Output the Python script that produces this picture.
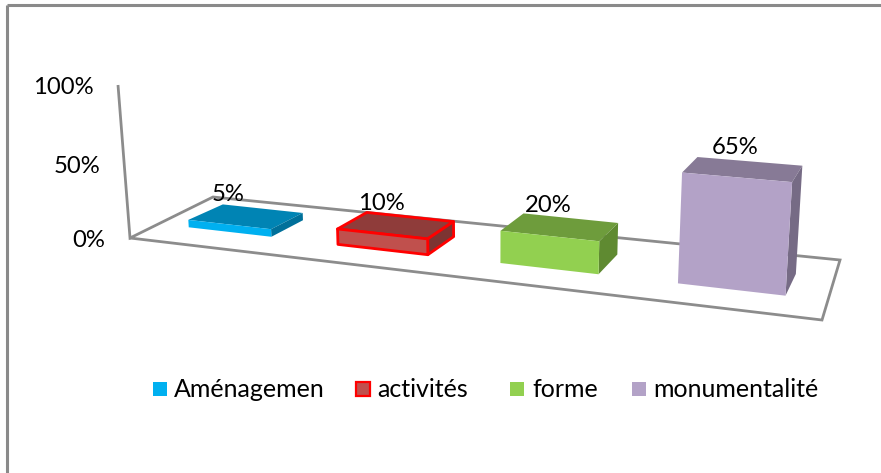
import numpy as np, pandas as pd, matplotlib
matplotlib.use("Agg")
import matplotlib.pyplot as plt, seaborn as sns
from matplotlib.patches import Rectangle, Polygon
from matplotlib.transforms import Transform, Affine2D

categories = ["Aménagemen", "activités", "forme", "monumentalité"]
values = [5, 10, 20, 65]
value_labels = ["5%", "10%", "20%", "65%"]
tick_labels = ["0%", "50%", "100%"]

FRONT = ["#00B0F0", "#C0504D", "#92D050", "#B3A2C7"]
TOP = ["#0084B4", "#8F3C3A", "#6E9C3C", "#877A96"]
SIDE = ["#00709A", "#7D3432", "#5F8A31", "#766B85"]
EDGE = [None, "#FF0000", None, None]
GREY = "#8C8C8C"
FONT = "Lato"
FS_NUM = 17.2
FS_LEG = 18.0

# Camera matrix of the pseudo-3D view: (bar position, depth, value %) -> pixels
CAM = np.array([[137.0366, 44.9189, -0.140703, 229.5814],
                [7.23134, -6.39480, -1.563680, 231.9810],
                [-0.0411878, 0.0452107, -0.000288666, 1.0]])


def project(x, d, v):
    q = CAM @ np.array([x, d, v, 1.0])
    return q[0] / q[2], q[1] / q[2]


class FrontPlane(Transform):
    input_dims = output_dims = 2
    is_separable = False
    has_inverse = False

    def transform_non_affine(self, xy):
        return np.array([project(a, 0, b) for a, b in np.asarray(xy)])


sns.set_theme(style="white")
fig = plt.figure(figsize=(8.81, 4.73), dpi=100, facecolor="white")
ax = fig.add_axes([0, 0, 1, 1])
df = pd.DataFrame({"cat": categories, "val": values})
sns.barplot(data=df, x="cat", y="val", hue="cat", palette=FRONT, width=0.564,
            legend=False, dodge=False, ax=ax, saturation=1, zorder=5)
bars = [p for c in ax.containers for p in c]
ax.set_axis_off()

# pixel space, y pointing down
PX = Affine2D().scale(1 / 881, -1 / 473).translate(0, 1) + fig.transFigure


def line(xs, ys, lw=2.0, color=GREY):
    ax.plot(xs, ys, color=color, lw=lw, transform=PX, clip_on=False,
            solid_capstyle="butt", solid_joinstyle="miter", zorder=1)


# chart frame (top and left only) and the 3-D floor and wall
line([7, 881], [5, 5], lw=2.2, color="#8A8A8A")
line([7, 7], [5, 473], lw=2.2, color="#8A8A8A")
line([118, 130, 213, 840, 822, 130], [85, 238, 197, 260, 320, 238])

for t, y, xr in zip(tick_labels, [240, 166, 87], [105, 100, 94]):
    ax.text(xr, y, t, transform=PX, ha="right", va="center", fontsize=FS_NUM,
            family=FONT, color="black")

front_tr = FrontPlane() + PX
for bar, val, lab, f, t, s, e in zip(bars, values, value_labels, FRONT, TOP, SIDE, EDGE):
    l, r = bar.get_x(), bar.get_x() + bar.get_width()
    h = bar.get_height()
    kw = dict(edgecolor=e, linewidth=2.0, joinstyle="round") if e else dict(edgecolor="none", linewidth=0)
    bar.set_transform(front_tr)
    bar.set_clip_on(False)
    bar.set_zorder(5)
    bar.set(**kw)
    top = [project(l, 0, h), project(r, 0, h), project(r, 1, h), project(l, 1, h)]
    side = [project(r, 0, 0), project(r, 1, 0), project(r, 1, h), project(r, 0, h)]
    ax.add_patch(Polygon(top, closed=True, facecolor=t, transform=PX, clip_on=False, zorder=4, **kw))
    ax.add_patch(Polygon(side, closed=True, facecolor=s, transform=PX, clip_on=False, zorder=4, **kw))
    cx, cy = project((l + r) / 2, 0, h)
    ax.text(cx - 1, cy - 30, lab, transform=PX, ha="center", va="center", fontsize=FS_NUM,
            family=FONT, color="black", zorder=6)

# legend
for name, f, e, xb, xt in zip(categories, FRONT, EDGE, [153, 356, 510, 632], [174, 377, 532, 653]):
    ekw = dict(edgecolor=e, linewidth=1.6) if e else dict(edgecolor="none", linewidth=0)
    ax.add_patch(Rectangle((xb, 382), 14, 14, facecolor=f, transform=PX, clip_on=False, **ekw))
    ax.text(xt, 389, name, transform=PX, ha="left", va="center", fontsize=FS_LEG,
            family=FONT, color="black")

fig.savefig("out.png", dpi=100, facecolor="white")
